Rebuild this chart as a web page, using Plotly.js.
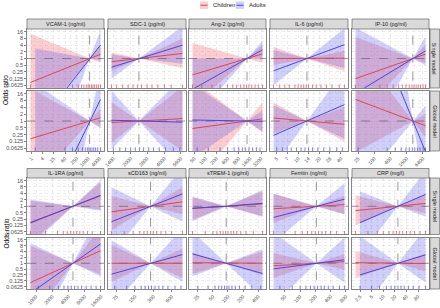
<!DOCTYPE html>
<html><head><meta charset="utf-8">
<script src="https://cdn.plot.ly/plotly-3.0.1.min.js"></script>
<style>html,body{margin:0;padding:0;background:#fff}#chart{width:440px;height:308px}</style>
</head><body><div id="chart"></div>
<script>
const markers = ['VCAM-1 (ng/ml)','SDC-1 (pg/ml)','Ang-2 (pg/ml)','IL-6 (pg/ml)','IP-10 (pg/ml)',
                 'IL-1RA (pg/ml)','sCD163 (ng/ml)','sTREM-1 (pg/ml)','Ferritin (ng/ml)','CRP (mg/l)'];
const models = ['Single model','Global model'];
const groups = ['Children','Adults'];
const xTicks = [[1,4,15,60,250,1000,4000],[1400,2000,2800,4000,5600],[50,100,200,400,800,1600,3200],
                [5,7,10,14,20,28,40],[25,100,400,1600,6400],[1000,2000,4000,8000,16000],
                [75,150,300,600],[25,50,100,200,400],[50,100,200,400,800],[2.5,5,10,20,40,80]];
const xMinChildren = [0.9,1350,45,4.5,20,790,62,19.5,30,1.9];
const xMinAdults   = [1.6,1350,45,4.5,20,790,62,19.5,30,2.5];
const xMax = [4500,5800,3500,45,8000,15700,900,490,750,125];
const xRef = [1200,2370,1340,13.3,2700,4850,270,92,210,24];
const yTicks = [0.0625,0.125,0.25,0.5,1,2,4,8,16];
const yTickText = ['0.0625','0.125','0.25','0.5','1','2','4','8','16'];

// log2 odds ratio at left end / right end: [line L, line R, lower L, lower R, upper L, upper R]
const childrenSingle = [
  [-3.57,0.63,-10.8,-0.65,3.69,1.91],[-0.48,0.76,-1.9,-1.4,0.88,3.0],[-2.45,0.70,-7.1,-0.65,2.3,2.1],
  [0.0,0.05,-1.0,-1.9,1.7,1.15],[-3.0,0.65,-9.2,-0.7,3.2,2.0],
  [-2.5,1.62,-5.7,-0.5,0.85,3.7],[-0.87,0.69,-3.75,-1.26,1.6,3.0],[-0.35,0.38,-2.1,-1.5,1.37,2.3],
  [-0.39,0.25,-2.6,-1.24,1.96,1.65],[-0.68,0.44,-3.0,-1.1,1.7,1.9]];
const adultsSingle = [
  [-10.45,2.0,-22,-0.3,1.5,4.2],[-1.3,1.99,-3.0,-0.8,0.6,4.8],[-4.6,1.3,-9.3,0.0,0.0,2.6],
  [-1.84,2.06,-4.0,-1.4,1.25,4.5],[-5.2,1.13,-15,-1.0,4.6,3.25],
  [-2.6,1.7,-6.2,-0.7,1.05,4.0],[-2.4,1.92,-7.5,-2.36,2.96,6.0],[-0.3,0.45,-2.35,-1.65,1.5,2.55],
  [-1.74,1.1,-5.65,-1.24,1.96,3.6],[-2.55,1.84,-7.6,-1.65,2.3,5.5]];
const childrenGlobal = [
  [-2.6,0.47,-10.1,-0.84,4.76,1.8],[-0.22,0.35,-3.16,-4.35,2.75,5.0],[-1.1,0.31,-9.5,-1.7,6.0,2.7],
  [0.44,-0.49,-1.84,-3.0,2.7,2.06],[3.16,-0.69,-4.6,-2.4,10.9,1.0],
  [-3.3,2.15,-9.6,-1.9,3.0,6.2],[0.0,0.0,-3.15,-2.5,3.15,2.5],[0.1,0.0,-1.85,-2.0,1.85,2.0],
  [-0.43,0.28,-2.5,-1.1,1.75,1.6],[0.1,-0.05,-2.55,-1.4,2.1,1.65]];
const adultsGlobal = [
  [-16.5,3.15,-38.5,-1.05,5.5,7.35],[0.11,-0.17,-4.1,-7.0,4.4,6.5],[0.15,-0.05,-5.45,-1.55,5.45,1.55],
  [-2.1,2.4,-6.7,-2.6,2.3,7.5],[20.7,-4.5,-10.3,-11,51,2.25],
  [-5.1,3.3,-13.6,-2.2,3.4,8.8],[-1.86,1.48,-7.5,-3.15,3.95,6.0],[1.6,-1.75,-2.2,-5.8,5.4,2.4],
  [-0.96,0.6,-7.0,-3.3,5.2,4.4],[-1.98,1.43,-8.4,-3.3,4.6,6.0]];

const childrenRug = [
  [0.9,150,300,450,600,800,1000,1200,1500,1800,2200,2800,3500,4500],
  [1350,1500,1700,1900,2100,2300,2500,2800,3100,3500,4000,4600,5800],
  [45,80,150,250,400,550,700,900,1100,1300,1500,1800,2200,2700,3500],
  [4.5,5.5,6.5,7.5,9,10,11,12,13,14,16,18,21,25,30,38,45],
  [20,160,300,500,800,1100,1500,2000,2500,3000,3600,4300,5200,6500,8000],
  [790,1500,2500,3200,3800,4400,5000,5700,6500,7500,9000,11000,15700],
  [62,100,140,180,210,240,270,300,340,400,480,600,900],
  [19.5,35,50,60,70,80,90,100,115,130,150,180,230,320,490],
  [30,50,80,110,140,170,200,230,270,320,400,520,750],
  [1.9,4,7,10,14,18,22,26,32,40,50,65,90,125]];
const adultsRug = [
  [1.6,60,150,300,500,700,900,1100,1300,1600,2000,2500,3200,4500],
  [1400,1600,1800,2000,2200,2400,2600,2900,3200,3600,4100,4800,5500],
  [60,120,250,400,600,800,1000,1200,1500,1900,2400,3000],
  [5,6,7,8,9.5,11,12.5,14,16,19,23,28,35,42],
  [25,300,600,1000,1500,2000,2600,3200,4000,5000,6500,8000],
  [1100,1800,2600,3300,3900,4500,5200,6000,7000,8500,10500,13000,15700],
  [70,110,150,190,220,250,280,320,370,430,520,680,850],
  [25,40,55,65,75,85,95,105,120,140,170,220,300,450],
  [40,70,100,130,160,190,220,260,300,360,450,600,750],
  [2.5,5,8,12,16,20,24,29,35,45,60,85,125]];

// ---------- styling / layout ----------
const W = 440, H = 308;
const FONT = 'Liberation Sans, Arial, sans-serif';
const lineCol = ['#E8414F', '#4646E6'];
const fillCol = ['rgba(240,80,90,0.28)', 'rgba(80,80,235,0.27)'];
const colPx = [[27,104],[108,186],[189,266],[270,348],[352,429]];
const rowPx = [[29,88],[91,151],[178,234.5],[237.5,289]];
const stripPx = [[19,29],[168.5,178]];
const yLim = 4.4;
const pw = v => Math.pow(2, v);

const data = [];
const layout = {
  width: W, height: H, margin: {l:0, r:0, t:0, b:0},
  paper_bgcolor: '#fff', plot_bgcolor: '#fff', showlegend: false,
  font: {family: FONT, size: 6, color: '#1A1A1A'},
  shapes: [], annotations: []
};

const yMinor = [];
for (let i = 0; i < yTicks.length - 1; i++) yMinor.push(Math.sqrt(yTicks[i] * yTicks[i+1]));

for (let m = 0; m < 10; m++) {
  const b = Math.floor(m / 5), c = m % 5;
  const xmin = Math.min(xMinChildren[m], xMinAdults[m]);
  const lo = Math.log10(xmin), hi = Math.log10(xMax[m]);
  const pad = 0.05 * (hi - lo);
  const xr = [lo - pad, hi + pad];
  const xMinor = [];
  for (let i = 0; i < xTicks[m].length - 1; i++) xMinor.push(Math.sqrt(xTicks[m][i] * xTicks[m][i+1]));
  for (let r = 0; r < 2; r++) {
    const k = b * 10 + r * 5 + c + 1;
    const sfx = k === 1 ? '' : String(k);
    const xa = 'x' + sfx, ya = 'y' + sfx;
    const R = b * 2 + r;
    layout['xaxis' + sfx] = {
      domain: [colPx[c][0] / W, colPx[c][1] / W], anchor: ya, type: 'log', range: xr,
      tickmode: 'array', tickvals: xTicks[m], ticktext: xTicks[m].map(String),
      showticklabels: r === 1, ticks: r === 1 ? 'outside' : '', ticklen: 2, tickwidth: 0.6, tickcolor: '#333',
      tickangle: -45, tickfont: {size: 5, color: '#4D4D4D', family: FONT},
      showgrid: true, gridcolor: '#D6D6D6', gridwidth: 0.5, griddash: 'dot',
      minor: {tickmode: 'array', tickvals: xMinor, showgrid: true, gridcolor: '#E6E6E6', gridwidth: 0.4, griddash: 'dot', ticks: ''},
      zeroline: false, showline: true, mirror: true, linecolor: '#666', linewidth: 0.8, fixedrange: true
    };
    layout['yaxis' + sfx] = {
      domain: [1 - rowPx[R][1] / H, 1 - rowPx[R][0] / H], anchor: xa, type: 'log',
      range: [-yLim * Math.LOG10E * Math.LN2, yLim * Math.LOG10E * Math.LN2],
      tickmode: 'array', tickvals: yTicks, ticktext: yTickText,
      showticklabels: c === 0, ticks: c === 0 ? 'outside' : '', ticklen: 2, tickwidth: 0.6, tickcolor: '#333',
      tickfont: {size: 5.5, color: '#4D4D4D', family: FONT},
      showgrid: true, gridcolor: '#D6D6D6', gridwidth: 0.5, griddash: 'dot',
      minor: {tickmode: 'array', tickvals: yMinor, showgrid: true, gridcolor: '#E6E6E6', gridwidth: 0.4, griddash: 'dot', ticks: ''},
      zeroline: false, showline: true, mirror: true, linecolor: '#666', linewidth: 0.8, fixedrange: true
    };
    const sets = r === 0 ? [childrenSingle, adultsSingle] : [childrenGlobal, adultsGlobal];
    const xLs = [xMinChildren[m], xMinAdults[m]];
    // ribbons
    for (let g = 0; g < 2; g++) {
      const v = sets[g][m];
      data.push({type: 'scatter', mode: 'lines', xaxis: xa, yaxis: ya, hoverinfo: 'skip',
        x: [xLs[g], xRef[m], xMax[m], xMax[m], xRef[m], xLs[g]],
        y: [v[4], 0, v[5], v[3], 0, v[2]].map(pw),
        fill: 'toself', fillcolor: fillCol[g], line: {width: 0, color: fillCol[g]}, name: groups[g]});
    }
    // reference dashed lines
    data.push({type: 'scatter', mode: 'lines', xaxis: xa, yaxis: ya, hoverinfo: 'skip',
      x: [Math.pow(10, xr[0] - 1), Math.pow(10, xr[1] + 1)], y: [1, 1],
      line: {color: '#555', width: 0.6, dash: 'dash'}});
    data.push({type: 'scatter', mode: 'lines', xaxis: xa, yaxis: ya, hoverinfo: 'skip',
      x: [xRef[m], xRef[m]], y: [pw(-6), pw(6)],
      line: {color: '#555', width: 0.6, dash: 'dash'}});
    // estimate lines
    for (let g = 0; g < 2; g++) {
      const v = sets[g][m];
      data.push({type: 'scatter', mode: 'lines', xaxis: xa, yaxis: ya, hoverinfo: 'skip',
        x: [xLs[g], xRef[m], xMax[m]], y: [pw(v[0]), 1, pw(v[1])],
        line: {color: lineCol[g], width: 1}, name: groups[g]});
    }
    // rug
    const rug = r === 0 ? childrenRug[m] : adultsRug[m];
    data.push({type: 'scatter', mode: 'markers', xaxis: xa, yaxis: ya, hoverinfo: 'skip',
      x: rug, y: rug.map(() => pw(-yLim + 0.22)),
      marker: {symbol: 'line-ns-open', size: 3, color: lineCol[r], line: {width: 0.7, color: lineCol[r]}}});
  }
  // top strip
  layout.shapes.push({type: 'rect', xref: 'paper', yref: 'paper',
    x0: colPx[c][0] / W, x1: colPx[c][1] / W, y0: 1 - stripPx[b][1] / H, y1: 1 - stripPx[b][0] / H,
    fillcolor: '#D9D9D9', line: {color: '#666', width: 0.7}});
  layout.annotations.push({xref: 'paper', yref: 'paper', showarrow: false,
    x: (colPx[c][0] + colPx[c][1]) / 2 / W, y: 1 - (stripPx[b][0] + stripPx[b][1]) / 2 / H,
    text: markers[m], font: {size: 5.5, color: '#1A1A1A', family: FONT}, xanchor: 'center', yanchor: 'middle'});
}

// right strips
for (let R = 0; R < 4; R++) {
  layout.shapes.push({type: 'rect', xref: 'paper', yref: 'paper',
    x0: 430 / W, x1: 439.6 / W, y0: 1 - rowPx[R][1] / H, y1: 1 - rowPx[R][0] / H,
    fillcolor: '#D9D9D9', line: {color: '#666', width: 0.7}});
  layout.annotations.push({xref: 'paper', yref: 'paper', showarrow: false,
    x: 434.8 / W, y: 1 - (rowPx[R][0] + rowPx[R][1]) / 2 / H, textangle: 90,
    text: models[R % 2], font: {size: 5.5, color: '#1A1A1A', family: FONT}, xanchor: 'center', yanchor: 'middle'});
}

// y titles
[[29,151],[178,289]].forEach(p => {
  layout.annotations.push({xref: 'paper', yref: 'paper', showarrow: false,
    x: 6 / W, y: 1 - (p[0] + p[1]) / 2 / H, textangle: -90, text: 'Odds ratio',
    font: {size: 6.5, color: '#000', family: FONT}, xanchor: 'center', yanchor: 'middle'});
});

// legend
const legBox = [[200,208],[236,244]];
const legText = [210.5, 246.5];
for (let g = 0; g < 2; g++) {
  layout.shapes.push({type: 'rect', xref: 'paper', yref: 'paper',
    x0: legBox[g][0] / W, x1: legBox[g][1] / W, y0: 1 - 9 / H, y1: 1 - 1.5 / H,
    fillcolor: fillCol[g], line: {width: 0}});
  layout.shapes.push({type: 'line', xref: 'paper', yref: 'paper',
    x0: (legBox[g][0] + 0.5) / W, x1: (legBox[g][1] - 0.5) / W, y0: 1 - 5.25 / H, y1: 1 - 5.25 / H,
    line: {color: lineCol[g], width: 1}});
  layout.annotations.push({xref: 'paper', yref: 'paper', showarrow: false,
    x: legText[g] / W, y: 1 - 5.25 / H, text: groups[g], xanchor: 'left', yanchor: 'middle',
    font: {size: 6, color: '#1A1A1A', family: FONT}});
}

Plotly.newPlot('chart', data, layout, {staticPlot: true, displayModeBar: false});
</script>
</body></html>
